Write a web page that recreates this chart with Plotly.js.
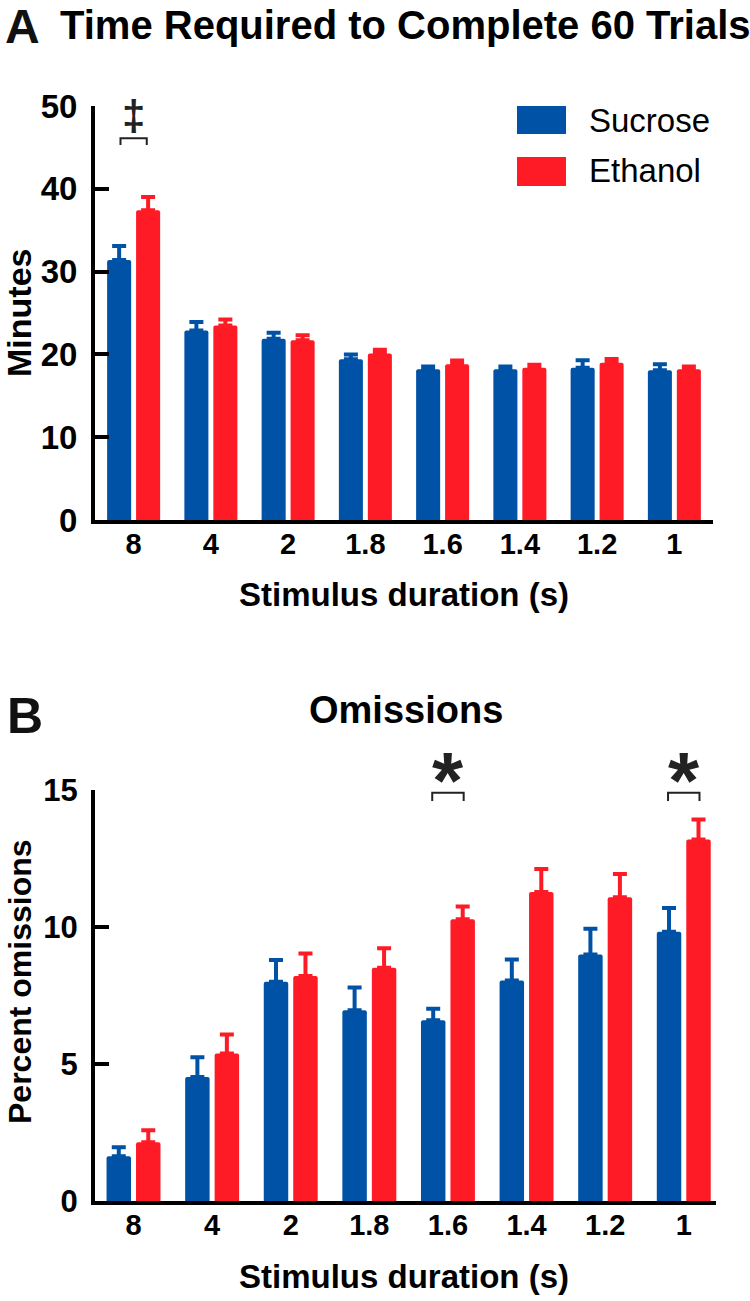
<!DOCTYPE html>
<html>
<head>
<meta charset="utf-8">
<script src="https://cdn.plot.ly/plotly-3.0.1.min.js"></script>
<style>html,body{margin:0;padding:0;background:#fff;}#chart{width:750px;height:1301px;}</style>
</head>
<body>
<div id="chart"></div>
<script>
// ---- data ----
const durations = ["8", "4", "2", "1.8", "1.6", "1.4", "1.2", "1"];

const timeSucrose    = [31.4, 22.9, 21.9, 19.4, 18.2, 18.2, 18.4, 18.1];
const timeSucroseErr = [1.7, 1.0, 0.7, 0.6, 0.35, 0.35, 0.9, 0.7];
const timeEthanol    = [37.4, 23.5, 21.7, 20.1, 18.8, 18.4, 19.0, 18.2];
const timeEthanolErr = [1.6, 0.7, 0.6, 0.45, 0.45, 0.35, 0.45, 0.35];

const omitSucrose    = [1.63, 4.53, 8.0, 6.96, 6.6, 8.05, 9.0, 9.83];
const omitSucroseErr = [0.33, 0.72, 0.80, 0.83, 0.42, 0.76, 0.94, 0.86];
const omitEthanol    = [2.14, 5.38, 8.21, 8.51, 10.28, 11.28, 11.09, 13.19];
const omitEthanolErr = [0.44, 0.70, 0.82, 0.71, 0.47, 0.84, 0.84, 0.73];

const timeTicks = [0, 10, 20, 30, 40, 50];
const omitTicks = [0, 5, 10, 15];
const seriesNames = ["Sucrose", "Ethanol"];

// ---- style ----
const BLUE = "#0052A6";
const RED = "#FF1B26";
const FONT = "Liberation Sans, Arial, Helvetica, sans-serif";
const W = 750, H = 1301;
const px = v => v / W;
const py = v => 1 - v / H;

function bar(x, y, err, name, color, xa, ya) {
  return {
    type: "bar", x: x, y: y, name: name, xaxis: xa, yaxis: ya,
    marker: {color: color, cornerradius: 2, line: {width: 0}},
    error_y: {type: "data", symmetric: false, array: err,
              arrayminus: err.map(() => 0), color: color, thickness: 4, width: 7},
    showlegend: false, hoverinfo: "skip"
  };
}

const data = [
  bar(durations, timeSucrose, timeSucroseErr, seriesNames[0], BLUE, "x", "y"),
  bar(durations, timeEthanol, timeEthanolErr, seriesNames[1], RED, "x", "y"),
  bar(durations, omitSucrose, omitSucroseErr, seriesNames[0], BLUE, "x2", "y2"),
  bar(durations, omitEthanol, omitEthanolErr, seriesNames[1], RED, "x2", "y2")
];

const xCommon = {
  type: "category", showgrid: false, zeroline: false,
  showline: true, linewidth: 4, linecolor: "#000", ticks: "",
  tickfont: {family: FONT, size: 29, color: "#000", weight: "bold"},
  ticklabelstandoff: -5, fixedrange: true
};
const yCommon = {
  showgrid: false, zeroline: false, showline: true, linewidth: 4, linecolor: "#000",
  ticks: "inside", ticklen: 14, tickwidth: 4, tickcolor: "#000",
  tickfont: {family: FONT, size: 33, color: "#000", weight: "bold"},
  ticklabelstandoff: 7, fixedrange: true
};

const layout = {
  width: W, height: H,
  margin: {l: 0, r: 0, t: 0, b: 0},
  paper_bgcolor: "#fff", plot_bgcolor: "rgba(0,0,0,0)",
  barmode: "group", bargap: 0.25, bargroupgap: 0.17,
  showlegend: false,
  font: {family: FONT, color: "#000"},
  xaxis: Object.assign({}, xCommon, {domain: [px(95), px(713)], anchor: "y", range: [-0.5, 7.5]}),
  yaxis: Object.assign({}, yCommon, {domain: [py(520), py(106)], anchor: "x",
          range: [0, 50], tickvals: timeTicks}),
  xaxis2: Object.assign({}, xCommon, {domain: [px(95), px(716)], anchor: "y2", range: [-0.49, 7.41]}),
  yaxis2: Object.assign({}, yCommon, {domain: [py(1201), py(790)], anchor: "x2",
          range: [0, 15], tickvals: omitTicks,
          tickfont: {family: FONT, size: 31, color: "#000", weight: "bold"}}),
  shapes: [
    // legend swatches
    {type: "rect", xref: "paper", yref: "paper", x0: px(517), x1: px(566), y0: py(134), y1: py(106),
     fillcolor: BLUE, line: {width: 0}},
    {type: "rect", xref: "paper", yref: "paper", x0: px(517), x1: px(566), y0: py(186), y1: py(157),
     fillcolor: RED, line: {width: 0}},
    // significance brackets
    {type: "path", xref: "x", yref: "y", path: "M -0.17 45.3 L -0.17 46.1 L 0.17 46.1 L 0.17 45.3",
     line: {color: "#222", width: 2}},
    {type: "path", xref: "x2", yref: "y2", path: "M 3.8 14.6 L 3.8 14.9 L 4.2 14.9 L 4.2 14.6",
     line: {color: "#222", width: 2}},
    {type: "path", xref: "x2", yref: "y2", path: "M 6.8 14.6 L 6.8 14.9 L 7.2 14.9 L 7.2 14.6",
     line: {color: "#222", width: 2}}
  ],
  annotations: [
    {text: "A", xref: "paper", yref: "paper", x: px(3), y: py(26), xanchor: "left", yanchor: "middle",
     showarrow: false, font: {family: FONT, size: 48, weight: "bold", color: "#111"}},
    {text: "Time Required to Complete 60 Trials", xref: "paper", yref: "paper", x: px(58), y: py(25),
     xanchor: "left", yanchor: "middle", showarrow: false,
     font: {family: FONT, size: 40, weight: "bold", color: "#000"}},
    {text: "B", xref: "paper", yref: "paper", x: px(5), y: py(716), xanchor: "left", yanchor: "middle",
     showarrow: false, font: {family: FONT, size: 50, weight: "bold", color: "#111"}},
    {text: "Omissions", xref: "paper", yref: "paper", x: px(406), y: py(710),
     xanchor: "center", yanchor: "middle", showarrow: false,
     font: {family: FONT, size: 38, weight: "bold", color: "#000"}},
    {text: "Minutes", xref: "paper", yref: "paper", x: px(19), y: py(313), textangle: -90,
     xanchor: "center", yanchor: "middle", showarrow: false,
     font: {family: FONT, size: 34, weight: "bold", color: "#000"}},
    {text: "Percent omissions", xref: "paper", yref: "paper", x: px(20), y: py(982), textangle: -90,
     xanchor: "center", yanchor: "middle", showarrow: false,
     font: {family: FONT, size: 32, weight: "bold", color: "#000"}},
    {text: "Stimulus duration (s)", xref: "paper", yref: "paper", x: px(404), y: py(594),
     xanchor: "center", yanchor: "middle", showarrow: false,
     font: {family: FONT, size: 33, weight: "bold", color: "#000"}},
    {text: "Stimulus duration (s)", xref: "paper", yref: "paper", x: px(404), y: py(1276),
     xanchor: "center", yanchor: "middle", showarrow: false,
     font: {family: FONT, size: 33, weight: "bold", color: "#000"}},
    {text: seriesNames[0], xref: "paper", yref: "paper", x: px(587), y: py(121),
     xanchor: "left", yanchor: "middle", showarrow: false,
     font: {family: FONT, size: 33, color: "#000"}},
    {text: seriesNames[1], xref: "paper", yref: "paper", x: px(587), y: py(171),
     xanchor: "left", yanchor: "middle", showarrow: false,
     font: {family: FONT, size: 33, color: "#000"}},
    {text: "\u2021", xref: "x", yref: "y", x: 0, y: 48.9, xanchor: "center", yanchor: "middle",
     showarrow: false, font: {family: FONT, size: 42, weight: "bold", color: "#222"}},
    {text: "*", xref: "x2", yref: "y2", x: 4, y: 14.93, yshift: 11, xanchor: "center", yanchor: "middle",
     showarrow: false, font: {family: FONT, size: 80, weight: "bold", color: "#222"}},
    {text: "*", xref: "x2", yref: "y2", x: 7, y: 14.93, yshift: 11, xanchor: "center", yanchor: "middle",
     showarrow: false, font: {family: FONT, size: 80, weight: "bold", color: "#222"}}
  ]
};

Plotly.newPlot("chart", data, layout, {displayModeBar: false, staticPlot: true});
</script>
</body>
</html>
